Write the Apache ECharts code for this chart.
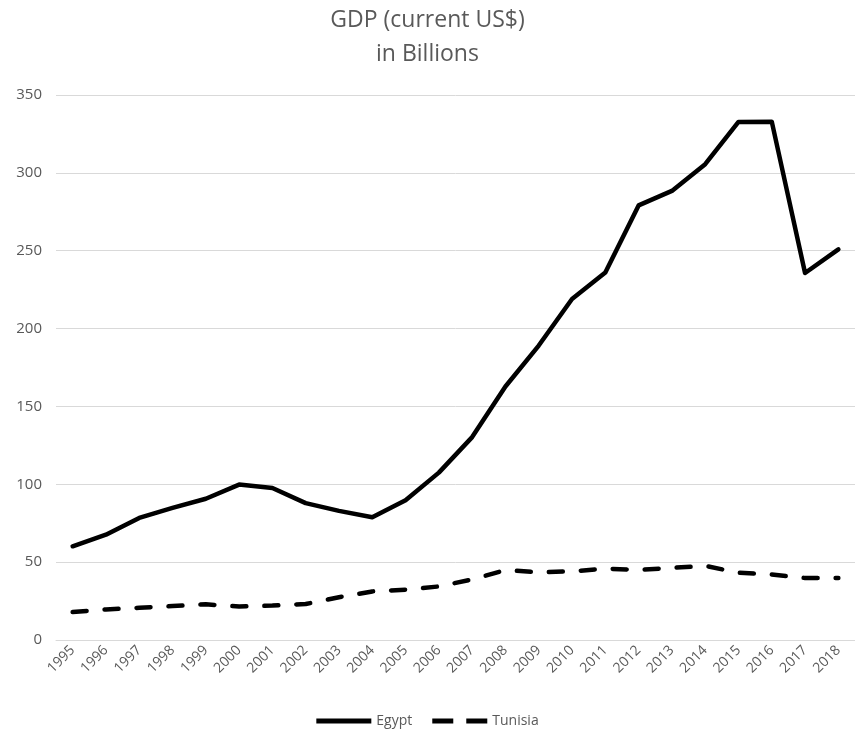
<!DOCTYPE html>
<html>
<head>
<meta charset="utf-8">
<script src="https://cdn.jsdelivr.net/npm/echarts@6/dist/echarts.min.js"></script>
<style>html,body{margin:0;padding:0;background:#fff}#c{width:855px;height:735px}</style>
</head>
<body>
<div id="c"></div>
<script>
const years = ['1995','1996','1997','1998','1999','2000','2001','2002','2003','2004','2005','2006','2007','2008','2009','2010','2011','2012','2013','2014','2015','2016','2017','2018'];
const egypt = [60.2,67.6,78.4,84.8,90.7,99.8,97.6,87.9,82.9,78.8,89.7,107.5,130.3,162.8,189.1,219.0,236.0,279.1,288.4,305.6,332.7,332.9,235.7,250.9];
const tunisia = [18.0,19.6,20.7,21.8,22.9,21.5,22.1,23.1,27.5,31.2,32.3,34.4,38.9,44.9,43.5,44.1,45.8,45.0,46.3,47.6,43.2,42.1,39.8,39.8];
const titleText = 'GDP (current US$)\nin Billions';

const chart = echarts.init(document.getElementById('c'), null, {renderer:'canvas'});
const font = '"Open Sans", "Liberation Sans", sans-serif';
chart.setOption({
  animation:false,
  title:{text:titleText,left:'center',top:-2,textStyle:{fontFamily:font,fontSize:23,fontWeight:'normal',color:'#595959',lineHeight:34}},
  grid:{left:56,right:0,top:95,bottom:95},
  legend:{bottom:2,left:'center',itemWidth:55,itemHeight:5,itemGap:20,textStyle:{fontFamily:font,fontSize:14,color:'#595959'},
    itemStyle:{color:'#000'},
    data:[
      {name:'Egypt',icon:'path://M0,0H55V5H0Z'},
      {name:'Tunisia',icon:'path://M0,0H21V5H0Z M34,0H55V5H34Z'}
    ]},
  xAxis:{type:'category',data:years,boundaryGap:true,
    axisLine:{lineStyle:{color:'#d9d9d9'}},axisTick:{show:false},
    axisLabel:{rotate:45,fontFamily:font,fontSize:14,color:'#595959',margin:8,interval:0}},
  yAxis:{type:'value',min:0,max:350,interval:50,
    axisLine:{show:false},axisTick:{show:false},
    splitLine:{lineStyle:{color:'#d9d9d9',width:1}},
    axisLabel:{fontFamily:font,fontSize:15,color:'#595959',margin:14}},
  series:[
    {name:'Egypt',type:'line',data:egypt,symbol:'none',lineStyle:{color:'#000',width:4.5,join:'round',cap:'round'},itemStyle:{color:'#000'}},
    {name:'Tunisia',type:'line',data:tunisia,symbol:'none',lineStyle:{color:'#000',width:4.5,type:[14,18],cap:'round'},itemStyle:{color:'#000'}}
  ]
});
</script>
</body>
</html>
